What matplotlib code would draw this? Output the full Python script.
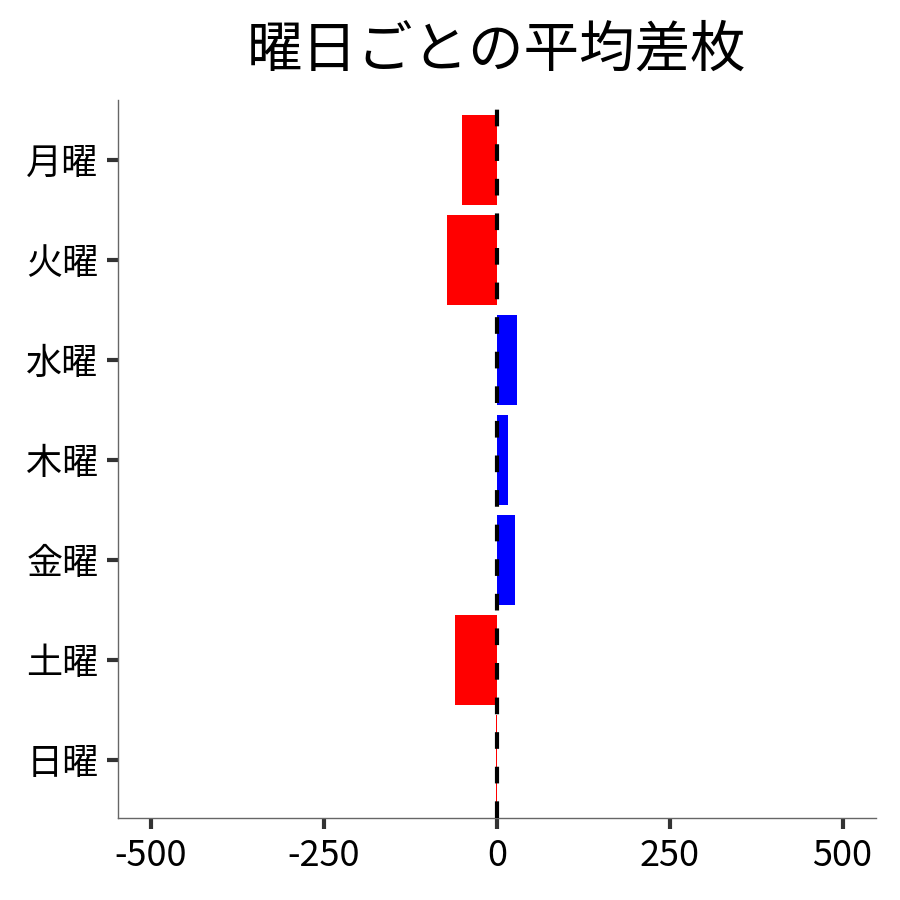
import matplotlib.pyplot as plt

plt.rcParams["font.family"] = ["Noto Sans CJK JP", "DejaVu Sans"]

days = ["月曜", "火曜", "水曜", "木曜", "金曜", "土曜", "日曜"]
avg_diff = [-51, -72, 29, 16, 26, -60, -1]
x_ticks = [-500, -250, 0, 250, 500]

colors = ["red" if v < 0 else "blue" for v in avg_diff]

fig = plt.figure(figsize=(9, 9), dpi=100)
ax = fig.add_axes([0.131, 0.091, 0.842, 0.798])

ax.barh(range(len(days)), avg_diff, height=0.9, color=colors, zorder=2)
ax.axvline(0, color="black", linewidth=3, linestyle=(0, (4, 4.3)), zorder=3)

ax.set_yticks(range(len(days)))
ax.set_yticklabels(days)
ax.set_xticks(x_ticks)
ax.set_xticklabels([str(t) for t in x_ticks])
ax.set_xlim(-548, 548)
ax.set_ylim(6.58, -0.6)

for side in ["top", "right"]:
    ax.spines[side].set_visible(False)
for side in ["left", "bottom"]:
    ax.spines[side].set_color("#666666")
    ax.spines[side].set_linewidth(1.0)

ax.tick_params(axis="both", length=8, width=3, color="#333333", labelsize=26, pad=6)

ax.set_title("曜日ごとの平均差枚", fontsize=40, pad=24)

plt.savefig("out.png", dpi=100)
plt.close()
